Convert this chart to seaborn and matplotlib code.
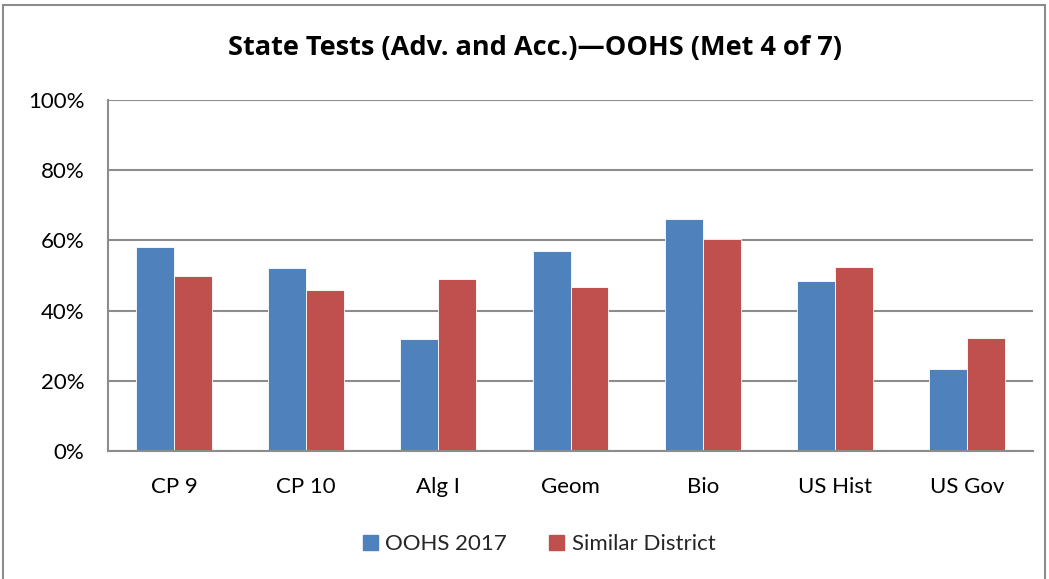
import matplotlib
matplotlib.use("Agg")
import matplotlib.pyplot as plt
import matplotlib.patches as mpatches
from matplotlib.ticker import PercentFormatter
import seaborn as sns
import pandas as pd

categories = ["CP 9", "CP 10", "Alg I", "Geom", "Bio", "US Hist", "US Gov"]
oohs_2017 = [58, 52, 32, 57, 66.2, 48.4, 23.5]
similar_district = [50, 46, 49, 46.6, 60.4, 52.3, 32.2]
series_names = ["OOHS 2017", "Similar District"]
colors = ["#4F81BD", "#C0504D"]

df = pd.DataFrame({
    "Test": categories * 2,
    "Value": oohs_2017 + similar_district,
    "Series": [series_names[0]] * len(categories) + [series_names[1]] * len(categories),
})

sns.set_theme(style="white")
plt.rcParams["font.family"] = ["Lato", "DejaVu Sans"]

fig = plt.figure(figsize=(10.49, 5.79), dpi=100)
ax = fig.add_axes([108 / 1049, 1 - 451 / 579, (1033 - 108) / 1049, (451 - 100) / 579])

sns.barplot(data=df, x="Test", y="Value", hue="Series", palette=colors,
            width=0.575, dodge=True, ax=ax, saturation=1, legend=True,
            edgecolor="white", linewidth=0.6)

ax.set_ylim(0, 100)
ax.set_xlim(-0.5, len(categories) - 0.5)
ax.set_yticks([0, 20, 40, 60, 80, 100])
ax.yaxis.set_major_formatter(PercentFormatter(decimals=0))
ax.yaxis.grid(True, color="#8c8c8c", linewidth=1.5)
ax.set_axisbelow(True)
ax.set_xlabel("")
ax.set_ylabel("")
for s in ["top", "right"]:
    ax.spines[s].set_visible(False)
for s in ["left", "bottom"]:
    ax.spines[s].set_color("#8c8c8c")
    ax.spines[s].set_linewidth(1.5)
ax.tick_params(axis="y", labelsize=16, length=0, pad=17)
ax.tick_params(axis="x", labelsize=16, length=0, pad=19)
for lbl in ax.get_yticklabels() + ax.get_xticklabels():
    lbl.set_color("black")

ax.get_legend().remove()
handles = [mpatches.Patch(color=c, label=n) for c, n in zip(colors, series_names)]
fig.legend(handles=handles, loc="center", bbox_to_anchor=(0.514, 1 - 544 / 579),
           ncol=2, frameon=False, fontsize=16, handlelength=0.65, handleheight=0.65,
           columnspacing=1.9, handletextpad=0.35)

fig.text(534.5 / 1049, 1 - 48 / 579, "State Tests (Adv. and Acc.)\u2014OOHS (Met 4 of 7)",
         ha="center", va="center", fontsize=19.5, fontweight="bold", color="black",
         family=["Open Sans", "DejaVu Sans"])

border = mpatches.Rectangle((3 / 1049, -0.02), 1042 / 1049, 1 - 5 / 579 + 0.02,
                            transform=fig.transFigure, fill=False,
                            edgecolor="#8c8c8c", linewidth=1.5)
fig.patches.append(border)

fig.savefig("out.png", dpi=100)
